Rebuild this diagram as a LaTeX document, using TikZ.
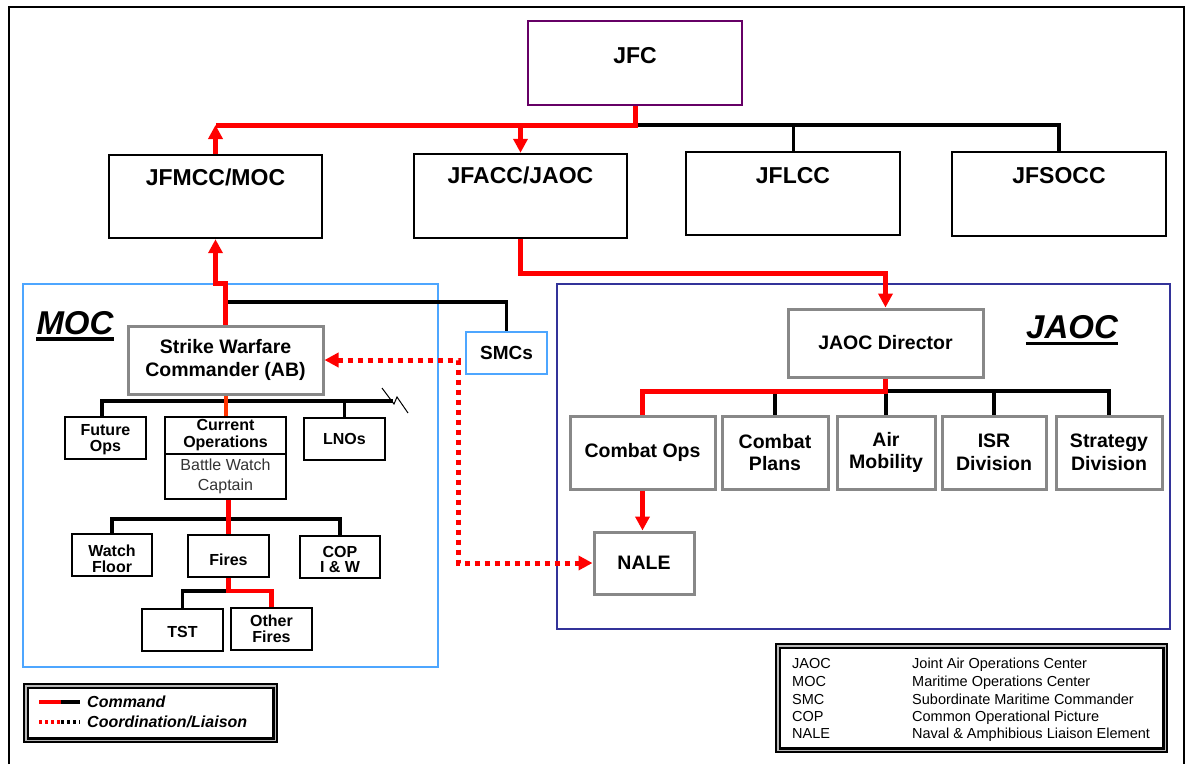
\documentclass[tikz,border=0pt]{standalone}
\usepackage{fontspec}
\setmainfont{Liberation Sans}
\usetikzlibrary{arrows.meta}
\definecolor{cmdred}{HTML}{FF0000}
\definecolor{orred}{HTML}{FF3300}
\definecolor{jfcpurple}{HTML}{660066}
\definecolor{mocblue}{HTML}{4DA6FF}
\definecolor{jaocblue}{HTML}{333399}
\definecolor{boxgray}{HTML}{888888}
\newcommand{\lowtext}[2]{\raisebox{-#1}[\height][\depth]{\begin{tabular}{@{}c@{}}#2\end{tabular}}}
\begin{document}
\begin{tikzpicture}[x=1pt,y=-1pt,
  >={Triangle[length=14pt,width=14pt]},
  sz/.style 2 args={minimum width=#1pt,minimum height=#2pt},
  cmd/.style={draw=cmdred,line width=5pt},
  ocmd/.style={draw=orred,line width=4pt},
  blk/.style={draw=black,line width=3.5pt},
  liaison/.style={draw=cmdred,line width=5pt,dash pattern=on 5pt off 5pt},
  topbox/.style={draw=black,line width=2.4pt,inner sep=0pt},
  toptext/.style={font=\fontsize{23}{26}\selectfont\bfseries,inner sep=0pt,anchor=base},
  graybox/.style={draw=boxgray,line width=3pt,inner sep=0pt,align=center,font=\fontsize{19.5}{22.5}\selectfont\bfseries},
  mocbox/.style={draw=black,line width=1.8pt,inner sep=0pt,align=center,font=\fontsize{16}{16}\selectfont\bfseries},
  areaframe/.style={line width=1.5pt,inner sep=0pt},
  biglabel/.style={font=\fontsize{33}{36}\selectfont\bfseries\itshape,inner sep=0pt,anchor=base},
  legtext/.style={font=\fontsize{14.5}{16}\selectfont,inner sep=0pt,anchor=base west},
  legkey/.style={font=\fontsize{16}{18}\selectfont\bfseries\itshape,inner sep=0pt,anchor=west},
  legbox/.style={draw=black,line width=2.2pt,double=gray!55,double distance=1.5pt,inner sep=0pt},
]
\useasboundingbox (0,0) rectangle (1187,764);
\fill[white] (0,0) rectangle (1187,764);
% outer frame
\draw[line width=2.5pt] (9,764) -- (9,7) -- (1184,7) -- (1184,764);

% helper coordinates
\coordinate (ybus) at (0,125);
\coordinate (y273) at (0,273);
\coordinate (y283) at (0,283);
\coordinate (y302) at (0,302);
\coordinate (y391) at (0,391);
\coordinate (bus1L) at (102,401);
\coordinate (bus1R) at (393,401);
\coordinate (y519) at (0,519);
\coordinate (y591) at (0,591);
\coordinate (dtop) at (458,360);
\coordinate (dbot) at (458,563);

% area frames
\node[areaframe,draw=mocblue,sz={415}{383}] (mocf) at (230.5,475.5) {};
\node[areaframe,draw=jaocblue,sz={613}{345}] (jaocf) at (863.5,456.5) {};

% top level
\node[topbox,draw=jfcpurple,sz={214}{84}] (jfc) at (635,63) {};
\node[toptext] (jfct) at (635,63.2) {JFC};
\node[topbox,sz={213}{83}] (jfmcc) at (215.5,196.5) {};
\node[toptext] (jfmcct) at (215.5,185) {JFMCC/MOC};
\node[topbox,sz={213}{84}] (jfacc) at (520.5,196) {};
\node[toptext] (jfacct) at (520.5,183) {JFACC/JAOC};
\node[topbox,line width=2.8pt,sz={214}{83}] (jflcc) at (793,193.5) {};
\node[toptext] (jflcct) at (793,183) {JFLCC};
\node[topbox,line width=2.8pt,sz={214}{84}] (jfsocc) at (1059,194) {};
\node[toptext] (jfsocct) at (1059,183) {JFSOCC};

% labels
\node[biglabel] (mocl) at (75,334) {MOC};
\draw[line width=3.5pt] ([yshift=-5pt]mocl.base west) -- ([yshift=-5pt]mocl.base east);
\node[biglabel] (jaocl) at (1072,338.8) {JAOC};
\draw[line width=3.5pt] ([yshift=-4.5pt]jaocl.base west) -- ([yshift=-4.5pt]jaocl.base east);

% MOC boxes
\node[graybox,sz={195}{68}] (swc) at (225.5,360) {Strike Warfare\\Commander (AB)};
\node[mocbox,draw=mocblue,line width=1.5pt,sz={81}{42},font=\fontsize{19}{22}\selectfont\bfseries] (smcs) at (506.5,353) {SMCs};
\node[mocbox,sz={81}{42}] (futops) at (105.5,438) {\lowtext{2pt}{Future\\Ops}};
\node[mocbox,sz={121}{37},font=\fontsize{16}{17}\selectfont\bfseries] (curtop) at (225.5,435.5) {Current\\Operations};
\node[mocbox,sz={121}{45},font=\fontsize{16}{20}\selectfont,text=black!80] (curbot) at (225.5,476.5) {Battle Watch\\Captain};
\node[mocbox,sz={81}{42}] (lnos) at (344.5,439) {\lowtext{2.5pt}{LNOs}};
\node[mocbox,sz={80}{42},font=\fontsize{16}{15}\selectfont\bfseries] (watch) at (112,555) {\lowtext{5.5pt}{Watch\\Floor}};
\node[mocbox,sz={81}{42}] (fires) at (228.5,556) {\lowtext{6pt}{Fires}};
\node[mocbox,sz={80}{42},font=\fontsize{16}{15}\selectfont\bfseries] (cop) at (340,557) {\lowtext{4.5pt}{COP\\I \& W}};
\node[mocbox,sz={81}{42}] (tst) at (182.5,630) {\lowtext{4pt}{TST}};
\node[mocbox,sz={81}{42}] (other) at (271.5,629) {\lowtext{2pt}{Other\\Fires}};

% JAOC boxes
\node[graybox,sz={195}{68}] (director) at (885.5,343) {JAOC Director};
\node[graybox,sz={145}{73}] (combat) at (642.5,452.5) {Combat Ops};
\node[graybox,sz={106}{73}] (plans) at (775,452.5) {Combat\\Plans};
\node[graybox,sz={98}{73}] (air) at (886,452.5) {Air\\Mobility};
\node[graybox,sz={104}{73}] (isr) at (994,452.5) {ISR\\Division};
\node[graybox,sz={106}{73}] (strat) at (1109,452.5) {Strategy\\Division};
\node[graybox,sz={100}{62}] (nale) at (644,563) {NALE};

% top connectors
\draw[blk] (jfc.south |- ybus) -- (jfsocc.north |- ybus) -- (jfsocc.north);
\draw[blk,line width=3pt] (jflcc.north |- ybus) -- (jflcc.north);
\draw[cmd] (jfc.south) -- (jfc.south |- ybus) -- (jfmcc.north |- ybus);
\draw[cmd,->] (jfmcc.north) -- (jfmcc.north |- ybus);
\draw[cmd,->] (jfacc.north |- ybus) -- (jfacc.north);
\draw[cmd,->] (jfacc.south) |- (director.north |- y273) -- (director.north);

% MOC connectors
\draw[blk] (swc.north |- y302) -- (smcs.north |- y302) -- (smcs.north);
\draw[cmd,->] (swc.north) -- (swc.north |- y283) -- (jfmcc.south |- y283) -- (jfmcc.south);
\draw[blk] (bus1L |- futops.north) -- (bus1L) -- (bus1R);
\draw[blk] (lnos.north |- bus1L) -- (lnos.north);
\draw[line width=1pt] (382,388) -- (394,404) -- (397,397) -- (408,413);
\draw[ocmd] (swc.south) -- (curtop.north);
\draw[blk] (watch.north) -- (watch.north |- y519) -- (cop.north |- y519) -- (cop.north);
\draw[cmd,line width=4.5pt] (fires.north |- curbot.south) -- (fires.north);
\draw[blk] (fires.south |- y591) -| (tst.north);
\draw[cmd,line width=4.5pt] (fires.south) |- (other.north |- y591) -- (other.north);

% liaison
\draw[liaison,<->] (swc.east) -- (dtop) -- (dbot) -- (nale.west);

% JAOC connectors
\draw[blk] (director.south |- y391) -- (strat.north |- y391) -- (strat.north);
\draw[blk] (plans.north |- y391) -- (plans.north);
\draw[blk] (air.north |- y391) -- (air.north);
\draw[blk] (isr.north |- y391) -- (isr.north);
\draw[cmd] (director.south) -- (director.south |- y391) -- (combat.north |- y391) -- (combat.north);
\draw[cmd,->] (combat.south) -- (combat.south |- nale.north);

% legend left
\node[legbox,sz={249.5}{54.5}] (legL) at (150.5,713) {};
\coordinate (k1a) at (39,702);
\coordinate (k1b) at (61,702);
\coordinate (k1c) at (80,702);
\coordinate (k2a) at (39,722);
\coordinate (k2b) at (61,722);
\coordinate (k2c) at (80,722);
\draw[draw=cmdred,line width=4pt] (k1a) -- (k1b);
\draw[line width=4pt] (k1b) -- (k1c);
\draw[draw=cmdred,line width=4pt,dash pattern=on 3pt off 3pt] (k2a) -- (k2b);
\draw[line width=4pt,dash pattern=on 3pt off 3pt] (k2b) -- (k2c);
\node[legkey] (k1t) at (87,702) {Command};
\node[legkey] (k2t) at (87,722) {Coordination/Liaison};

% legend right
\node[legbox,sz={387.5}{104.5}] (legR) at (971.5,698) {};
\node[legtext] (a1) at (792,668.2) {JAOC};
\node[legtext] (a2) at (792,686.2) {MOC};
\node[legtext] (a3) at (792,704.2) {SMC};
\node[legtext] (a4) at (792,721.2) {COP};
\node[legtext] (a5) at (792,738.2) {NALE};
\node[legtext] (d1) at (912,668.2) {Joint Air Operations Center};
\node[legtext] (d2) at (912,686.2) {Maritime Operations Center};
\node[legtext] (d3) at (912,704.2) {Subordinate Maritime Commander};
\node[legtext] (d4) at (912,721.2) {Common Operational Picture};
\node[legtext] (d5) at (912,738.2) {Naval \& Amphibious Liaison Element};
\end{tikzpicture}
\end{document}
